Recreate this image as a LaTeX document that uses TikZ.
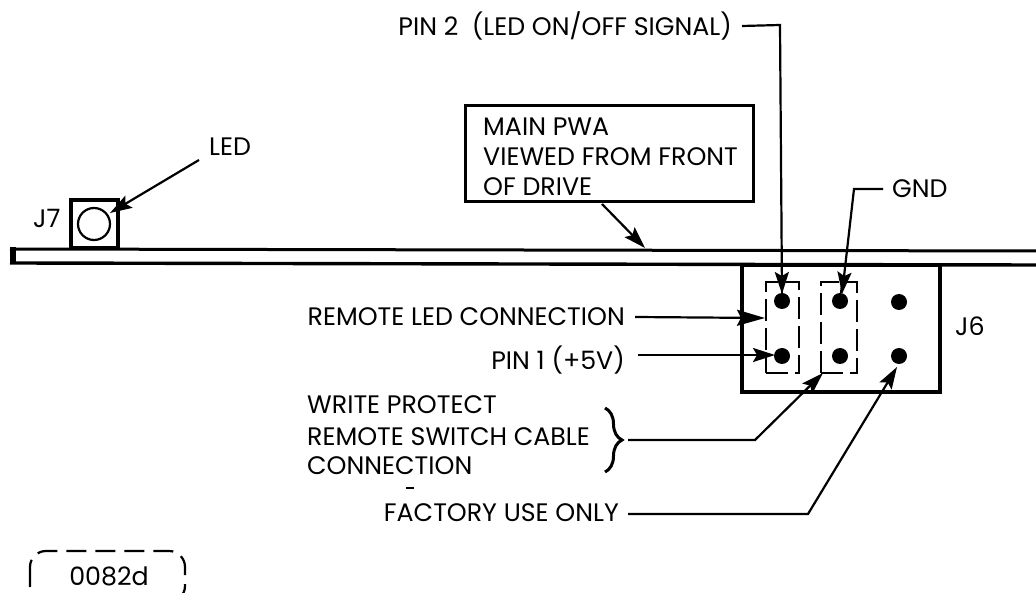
\documentclass[tikz,border=0pt]{standalone}
\usepackage{fontspec}
\setmainfont{Poppins}
\usetikzlibrary{arrows.meta,decorations.pathreplacing}
\tikzset{
 x=1pt,y=-1pt,
 lbl/.style={inner sep=0pt,font=\fontsize{25.3}{28}\selectfont,text=black},
 lead/.style={line width=2.2pt,black,-{Stealth[length=22pt,width=14pt,inset=4pt]}},
 leadbig/.style={line width=2.2pt,black,-{Stealth[length=28pt,width=16pt,inset=4pt]}},
 pin/.style={circle,fill=black,inner sep=0pt,minimum size=16pt},
 dbox/.style={draw,line width=2.8pt,dash pattern=on 22pt off 7pt},
 heavy/.style={draw,line width=3.2pt,black},
}
\begin{document}
\begin{tikzpicture}
\useasboundingbox (0,0) rectangle (1036,593);
\clip (0,0) rectangle (1036,593);
% board
\coordinate (bl1) at (10,249); \coordinate (br1) at (1036,251);
\coordinate (bl2) at (10,263); \coordinate (br2) at (1036,265);
\draw[line width=3pt] (bl1) -- (br1);
\draw[line width=3.4pt] (bl2) -- (br2);
\fill (10,247) rectangle (16,264);
% J7
\node[heavy,minimum width=47pt,minimum height=48pt,inner sep=0pt] (j7box) at (94.5,224) {};
\node[draw,circle,line width=2.2pt,minimum size=32pt,inner sep=0pt] (ledc) at (94,224) {};
\node[lbl,anchor=west] (j7) at (33,218) {J7};
\node[lbl,anchor=west] (led) at (209,147) {LED};
\coordinate (ledtail) at (199,160); \coordinate (ledtip) at (110,213);
\draw[lead] (ledtail) -- (ledtip);
% J6
\node[heavy,minimum width=198pt,minimum height=127pt,inner sep=0pt] (j6box) at (841,328.5) {};
\node[lbl,anchor=west] (j6) at (955,326) {J6};
\node[dbox,minimum width=33pt,minimum height=91pt,inner sep=0pt] (d1) at (782.5,327.5) {};
\node[dbox,minimum width=36pt,minimum height=91pt,inner sep=0pt] (d2) at (839,327.5) {};
\node[pin] (p1) at (782,301) {};
\node[pin] (p2) at (782,356) {};
\node[pin] (p3) at (840,301) {};
\node[pin] (p4) at (840,356) {};
\node[pin] (p5) at (899,302) {};
\node[pin] (p6) at (899,356) {};
% pin 2
\node[lbl,anchor=east] (pin2) at (732,26) {PIN 2\ \ (LED ON/OFF SIGNAL)};
\coordinate (c2) at (780,25);
\draw[lead] (pin2.east) ++(10,0) -- (c2) -- (782,294);
\draw[line width=2.2pt] (782,285) -- (p1);
% gnd
\node[lbl,anchor=west] (gnd) at (892,189) {GND};
\coordinate (c3) at (854,189);
\draw[lead] (gnd.west) ++(-9,0) -- (c3) -- (842,294);
\draw[line width=2.2pt] (842,285) -- (p3);
% main pwa
\node[draw,line width=3pt,minimum width=288pt,minimum height=96pt,inner sep=0pt] (pwa) at (609,154) {};
\node[lbl,anchor=west] (pwa1) at (483,127) {MAIN PWA};
\node[lbl,anchor=west] (pwa2) at (483,157) {VIEWED FROM FRONT};
\node[lbl,anchor=west] (pwa3) at (483,187) {OF DRIVE};
\coordinate (pwat) at (602,204); \coordinate (pwah) at (645,248);
\draw[lead] (pwat) -- (pwah);
% left labels
\node[lbl,anchor=east] (rlc) at (625,317) {REMOTE LED CONNECTION};
\coordinate (rlct) at (765,318);
\draw[leadbig] (rlc.east) ++(10,0) -- (rlct);
\node[lbl,anchor=east] (pin1) at (625,360) {PIN 1 (+5V)};
\coordinate (pin1s) at (638,355); \coordinate (pin1t) at (775,355);
\draw[lead] (pin1s) -- (pin1t);
\node[lbl,anchor=west] (wp1) at (307,405) {WRITE PROTECT};
\node[lbl,anchor=west] (wp2) at (307,437) {REMOTE SWITCH CABLE};
\node[lbl,anchor=west] (wp3) at (307,466) {CONNECTION};
\fill (406,487) rectangle (414,489);
\coordinate (bra) at (605,408); \coordinate (brb) at (605,472);
\draw[line width=3pt,decorate,decoration={brace,amplitude=17pt}] (bra) -- (brb);
\coordinate (wps) at (628,440); \coordinate (wpc) at (755,440); \coordinate (wpt) at (823,373);
\draw[lead] (wps) -- (wpc) -- (wpt);
\node[lbl,anchor=east] (fac) at (619,513) {FACTORY USE ONLY};
\coordinate (facc) at (808,514); \coordinate (fact) at (897,367);
\draw[lead] (fac.east) ++(9,1) -- (facc) -- (fact);
% tag
\node[lbl,anchor=center] (tag) at (109,576) {0082d};
\draw[line width=2.2pt,dash pattern=on 20pt off 9pt,rounded corners=16pt] (30,551) rectangle (185,602);
\end{tikzpicture}
\end{document}
